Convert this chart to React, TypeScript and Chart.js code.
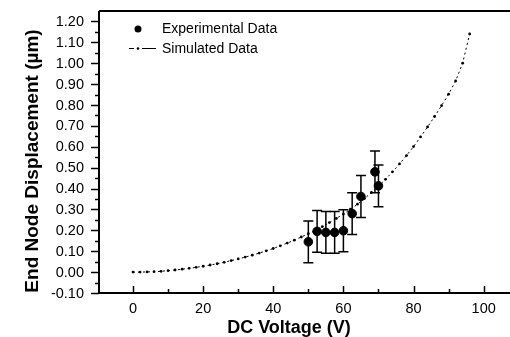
import React, { useEffect, useRef } from "react";
import { Chart, registerables } from "chart.js";

Chart.register(...registerables);

// Experimental data (DC voltage in V, end node displacement in µm)
const expVoltage = [50, 52.5, 55, 57.5, 60, 62.5, 65, 69, 70];
const expDisp = [0.145, 0.195, 0.19, 0.19, 0.198, 0.28, 0.362, 0.48, 0.413];
const expErr = [0.1, 0.1, 0.1, 0.1, 0.1, 0.1, 0.1, 0.1, 0.1];

// Simulated data
const simVoltage = [
  0, 2, 4, 6, 8, 10, 12, 14, 16, 18, 20, 22, 24, 26, 28, 30, 32, 34, 36, 38, 40,
  42, 44, 46, 48, 50, 52, 54, 56, 58, 60, 62, 64, 66, 68, 70, 72, 74, 76, 78, 80,
  82, 84, 86, 88, 90, 92, 94, 96,
];
const simDisp = [
  0, 0, 0.001, 0.002, 0.004, 0.007, 0.01, 0.014, 0.018, 0.023, 0.028, 0.034,
  0.04, 0.047, 0.055, 0.063, 0.072, 0.081, 0.091, 0.102, 0.113, 0.126, 0.139,
  0.153, 0.168, 0.184, 0.2, 0.218, 0.237, 0.257, 0.278, 0.301, 0.325, 0.352,
  0.381, 0.411, 0.444, 0.48, 0.518, 0.558, 0.601, 0.647, 0.695, 0.745, 0.797,
  0.852, 0.915, 1.0, 1.14,
];

const xTickValues = [0, 20, 40, 60, 80, 100];
const xTickLabels = ["0", "20", "40", "60", "80", "100"];
const yTickValues = [-0.1, 0, 0.1, 0.2, 0.3, 0.4, 0.5, 0.6, 0.7, 0.8, 0.9, 1.0, 1.1, 1.2];
const yTickLabels = [
  "-0.10", "0.00", "0.10", "0.20", "0.30", "0.40", "0.50", "0.60", "0.70",
  "0.80", "0.90", "1.00", "1.10", "1.20",
];
const legendLabels = ["Experimental Data", "Simulated Data"];
const xTitle = "DC Voltage (V)";
const yTitle = "End Node Displacement (\u00b5m)";

const FONT = "'Liberation Sans', Arial, sans-serif";

export default function App() {
  const ref = useRef<HTMLCanvasElement | null>(null);

  useEffect(() => {
    document.body.style.margin = "0";
    document.body.style.overflow = "hidden";
    const canvas = ref.current;
    if (!canvas) return;

    const decor = {
      id: "decor",
      afterDatasetsDraw(chart: any) {
        const { ctx } = chart;
        const xs = chart.scales.x;
        const ys = chart.scales.y;
        ctx.save();
        ctx.strokeStyle = "#000";
        ctx.lineWidth = 1.5;
        expVoltage.forEach((v, i) => {
          const px = xs.getPixelForValue(v);
          const top = ys.getPixelForValue(expDisp[i] + expErr[i]);
          const bot = ys.getPixelForValue(expDisp[i] - expErr[i]);
          ctx.beginPath();
          ctx.moveTo(px, top);
          ctx.lineTo(px, bot);
          ctx.moveTo(px - 5, top);
          ctx.lineTo(px + 5, top);
          ctx.moveTo(px - 5, bot);
          ctx.lineTo(px + 5, bot);
          ctx.stroke();
        });
        ctx.restore();
      },
      afterDraw(chart: any) {
        const { ctx, chartArea: ca } = chart;
        const xs = chart.scales.x;
        const ys = chart.scales.y;
        ctx.save();
        ctx.strokeStyle = "#000";
        ctx.fillStyle = "#000";
        // frame
        ctx.lineWidth = 2;
        ctx.beginPath();
        ctx.moveTo(ca.left, ca.top);
        ctx.lineTo(chart.width, ca.top);
        ctx.moveTo(ca.left, ca.top);
        ctx.lineTo(ca.left, ca.bottom + 1);
        ctx.moveTo(ca.left - 1, ca.bottom);
        ctx.lineTo(chart.width, ca.bottom);
        ctx.stroke();
        // x ticks (inside)
        ctx.lineWidth = 1.5;
        for (let v = 0; v <= 100; v += 10) {
          const px = Math.round(xs.getPixelForValue(v)) + 0.5;
          const len = v % 20 === 0 ? 7 : 4;
          ctx.beginPath();
          ctx.moveTo(px, ca.bottom);
          ctx.lineTo(px, ca.bottom - len);
          ctx.stroke();
        }
        // y ticks (outside)
        for (let i = -2; i <= 24; i++) {
          const py = Math.round(ys.getPixelForValue(i * 0.05)) + 0.5;
          const len = i % 2 === 0 ? 8 : 4;
          ctx.beginPath();
          ctx.moveTo(ca.left, py);
          ctx.lineTo(ca.left - len, py);
          ctx.stroke();
        }
        // tick labels
        ctx.font = `14.5px ${FONT}`;
        ctx.textBaseline = "middle";
        ctx.textAlign = "right";
        yTickValues.forEach((v, i) => {
          ctx.fillText(yTickLabels[i], 84, ys.getPixelForValue(v) + 0.5);
        });
        ctx.textAlign = "center";
        xTickValues.forEach((v, i) => {
          ctx.fillText(xTickLabels[i], xs.getPixelForValue(v), ca.bottom + 16);
        });
        // legend
        ctx.beginPath();
        ctx.arc(138, 29, 3.5, 0, Math.PI * 2);
        ctx.fill();
        ctx.lineWidth = 1;
        ctx.beginPath();
        ctx.moveTo(129, 48.5);
        ctx.lineTo(134, 48.5);
        ctx.moveTo(142, 48.5);
        ctx.lineTo(156, 48.5);
        ctx.stroke();
        ctx.beginPath();
        ctx.arc(138, 48.5, 1.3, 0, Math.PI * 2);
        ctx.fill();
        ctx.font = `14px ${FONT}`;
        ctx.textAlign = "left";
        ctx.fillText(legendLabels[0], 162, 29);
        ctx.fillText(legendLabels[1], 162, 49);
        // x title
        ctx.font = `bold 18px ${FONT}`;
        ctx.textAlign = "center";
        ctx.fillText(xTitle, 289, 328);
        // y title
        ctx.font = `bold 19px ${FONT}`;
        ctx.translate(33, 161);
        ctx.rotate(-Math.PI / 2);
        ctx.fillText(yTitle, 0, 0);
        ctx.restore();
      },
    };

    const chart = new Chart(canvas, {
      type: "scatter",
      data: {
        datasets: [
          {
            label: legendLabels[0],
            data: expVoltage.map((v, i) => ({ x: v, y: expDisp[i] })),
            backgroundColor: "#000",
            borderColor: "#000",
            pointRadius: 4.3,
            showLine: false,
          },
          {
            label: legendLabels[1],
            data: simVoltage.map((v, i) => ({ x: v, y: simDisp[i] })),
            backgroundColor: "#000",
            borderColor: "#000",
            borderWidth: 1,
            borderDash: [2, 3],
            pointRadius: 1.4,
            pointBorderWidth: 0,
            showLine: true,
          },
        ],
      },
      plugins: [decor],
      options: {
        responsive: false,
        animation: false,
        events: [],
        layout: { padding: { top: 11, right: 0, left: 0, bottom: 0 } },
        plugins: {
          legend: { display: false },
          tooltip: { enabled: false },
        },
        scales: {
          x: {
            type: "linear",
            min: -9.7,
            max: 106,
            afterFit: (s: any) => {
              s.height = 44;
            },
            grid: { display: false, drawTicks: false },
            border: { display: false },
            ticks: { display: false },
          },
          y: {
            type: "linear",
            min: -0.1,
            max: 1.25,
            afterFit: (s: any) => {
              s.width = 99;
            },
            grid: { display: false, drawTicks: false },
            border: { display: false },
            ticks: { display: false },
          },
        },
      },
    });
    return () => chart.destroy();
  }, []);

  return (
    <div style={{ width: 510, height: 337, overflow: "hidden" }}>
      <canvas
        ref={ref}
        width={510}
        height={337}
        style={{ display: "block" }}
      />
    </div>
  );
}
